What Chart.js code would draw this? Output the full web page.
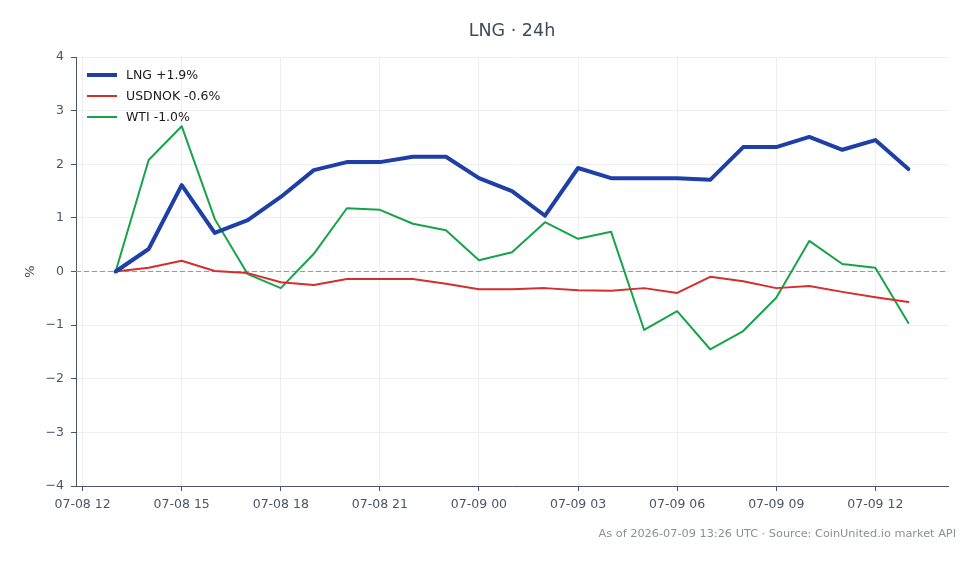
<!DOCTYPE html>
<html lang="en">
<head>
<meta charset="utf-8" />
<title>LNG · 24h</title>
<style>
html,body{margin:0;padding:0;background:#fff;}
#wrap{width:980px;height:564px;position:relative;}
canvas{display:block;}
</style>
</head>
<body>
<div id="wrap"><canvas id="lngChart" width="980" height="564"></canvas></div>

<script src="https://cdn.jsdelivr.net/npm/chart.js@4.4.1"></script>
<script>
/* ─────────── data (hours since 07-08 00:00 UTC) ─────────── */
const hours   = [13,14,15,16,17,18,19,20,21,22,23,24,25,26,27,28,29,30,31,32,33,34,35,36,37];
const lng     = [0,0.42,1.61,0.72,0.96,1.39,1.89,2.04,2.04,2.14,2.14,1.74,1.50,1.04,1.93,1.74,1.74,1.74,1.71,2.32,2.32,2.51,2.27,2.45,1.91];
const usdnok  = [0,0.07,0.20,0.01,-0.03,-0.20,-0.25,-0.14,-0.14,-0.14,-0.23,-0.33,-0.33,-0.31,-0.35,-0.36,-0.31,-0.40,-0.10,-0.18,-0.31,-0.27,-0.38,-0.48,-0.57];
const wti     = [0,2.08,2.71,0.98,-0.05,-0.31,0.33,1.18,1.15,0.89,0.77,0.21,0.36,0.92,0.61,0.74,-1.09,-0.74,-1.45,-1.11,-0.49,0.57,0.14,0.07,-0.96];
const seriesLabels = ['LNG +1.9%','USDNOK -0.6%','WTI -1.0%'];
const xTicks = [12,15,18,21,24,27,30,33,36];
const yTicks = [-4,-3,-2,-1,0,1,2,3,4];
const titleText  = 'LNG · 24h';
const footerText = 'As of 2026-07-09 13:26 UTC · Source: CoinUnited.io market API';

const FONT = '"DejaVu Sans", Verdana, sans-serif';
const colors = ['#1e3fa8','#d62d2d','#16a34a'];
const widths = [4,2,2];

const pts = arr => arr.map((v,i)=>({x:hours[i],y:v}));

/* ─────────── extras: title, legend, zero line, footer ─────────── */
const extras = {
    id:'extras',
    beforeDatasetsDraw(chart){
        const {ctx,chartArea,scales:{y}} = chart;
        const y0 = y.getPixelForValue(0);
        ctx.save();
        ctx.strokeStyle='#8d9ab0'; ctx.lineWidth=1; ctx.setLineDash([5,3]);
        ctx.beginPath(); ctx.moveTo(chartArea.left,y0); ctx.lineTo(chartArea.right,y0); ctx.stroke();
        ctx.restore();
    },
    afterDraw(chart){
        const {ctx,chartArea} = chart;
        ctx.save();
        // title
        ctx.fillStyle='#3d4a5c'; ctx.font='17.5px '+FONT;
        ctx.textAlign='center'; ctx.textBaseline='middle';
        ctx.fillText(titleText,(chartArea.left+chartArea.right)/2,31);
        // y label
        ctx.save();
        ctx.translate(31,(chartArea.top+chartArea.bottom)/2);
        ctx.rotate(-Math.PI/2);
        ctx.font='13px '+FONT; ctx.fillStyle='#3d4a5c';
        ctx.fillText('%',0,0);
        ctx.restore();
        // legend
        ctx.font='12.5px '+FONT; ctx.textAlign='left';
        chart.data.datasets.forEach((ds,i)=>{
            const ly = chartArea.top + 18 + i*21;
            ctx.strokeStyle=ds.borderColor; ctx.lineWidth=ds.borderWidth;
            ctx.beginPath(); ctx.moveTo(chartArea.left+11,ly); ctx.lineTo(chartArea.left+41,ly); ctx.stroke();
            ctx.fillStyle='#1a1a1a';
            ctx.fillText(ds.label,chartArea.left+50,ly+1);
        });
        // footer
        ctx.font='11.3px '+FONT; ctx.fillStyle='#8a9099'; ctx.textAlign='right';
        ctx.fillText(footerText,956,534);
        ctx.restore();
    }
};

Chart.register(extras);
Chart.defaults.animation=false;

const pad2 = n => String(n).padStart(2,'0');

new Chart(document.getElementById('lngChart'),{
    type:'line',
    data:{datasets:[lng,usdnok,wti].map((arr,i)=>({
        label:seriesLabels[i], data:pts(arr),
        borderColor:colors[i], borderWidth:widths[i],
        pointRadius:0, tension:0, fill:false,
        borderJoinStyle:'round', borderCapStyle:'round'
    }))},
    options:{
        responsive:false, devicePixelRatio:1,
        layout:{padding:{left:0,right:32,top:57,bottom:0}},
        plugins:{legend:{display:false},tooltip:{enabled:false},title:{display:false}},
        scales:{
            x:{
                type:'linear', min:11.8, max:38.2,
                afterBuildTicks:s=>{ s.ticks = xTicks.map(v=>({value:v})); },
                afterFit:s=>{ s.height=78; },
                grid:{color:'#eceef2',tickColor:'#4a5568',tickLength:5,lineWidth:1},
                border:{color:'#4a5568',width:1},
                ticks:{
                    font:{family:FONT,size:12.5}, color:'#4a5568', padding:6, maxRotation:0,
                    callback:v=>(v<24?'07-08 ':'07-09 ')+pad2(v%24)
                }
            },
            y:{
                min:-4, max:4,
                afterBuildTicks:s=>{ s.ticks = yTicks.map(v=>({value:v})); },
                afterFit:s=>{ s.width=76; },
                grid:{color:'#eceef2',tickColor:'#4a5568',tickLength:5,lineWidth:1},
                border:{color:'#4a5568',width:1},
                ticks:{
                    font:{family:FONT,size:12.5}, color:'#4a5568', padding:7,
                    callback:v=>v<0?'\u2212'+Math.abs(v):String(v)
                }
            }
        }
    }
});
</script>
</body>
</html>
